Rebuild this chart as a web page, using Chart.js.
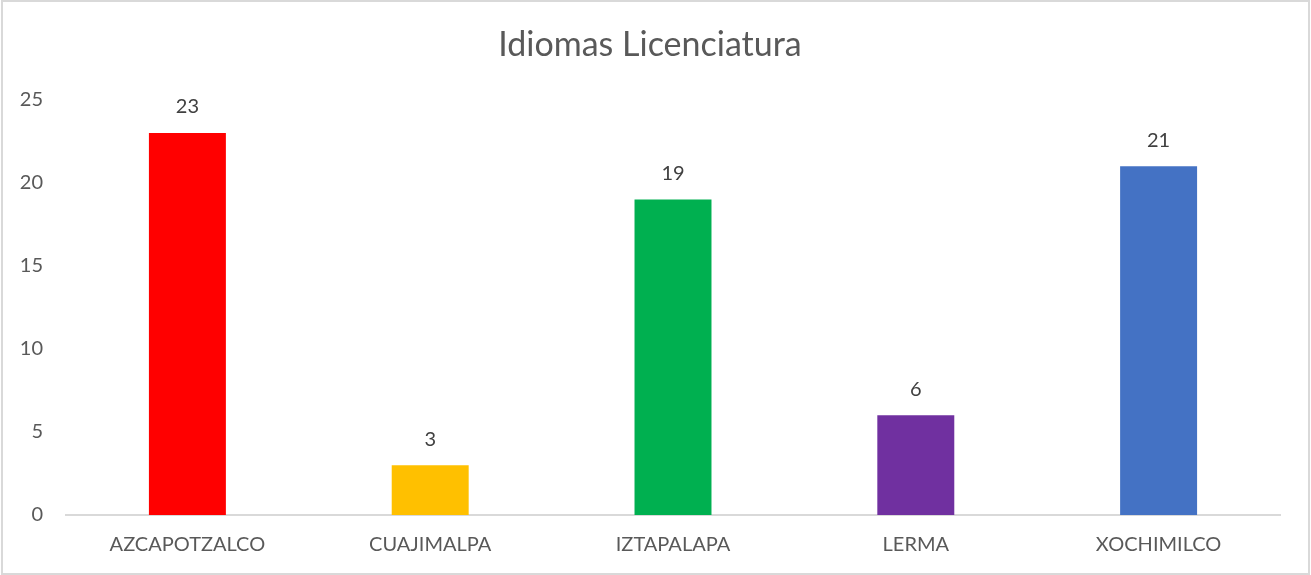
<!DOCTYPE html>
<html>
<head>
<meta charset="utf-8">
<script src="https://cdn.jsdelivr.net/npm/chart.js@4.4.0/dist/chart.umd.min.js"></script>
<style>
html,body{margin:0;padding:0;background:#fff;}
#wrap{width:1311px;height:575px;position:relative;}
</style>
</head>
<body>
<div id="wrap"><canvas id="c" width="1311" height="575"></canvas></div>
<script>
const titleText = "Idiomas Licenciatura";
const categories = ["AZCAPOTZALCO", "CUAJIMALPA", "IZTAPALAPA", "LERMA", "XOCHIMILCO"];
const values = [23, 3, 19, 6, 21];
const barColors = ["#FF0000", "#FFC000", "#00B050", "#7030A0", "#4472C4"];
const yTicks = [0, 5, 10, 15, 20, 25];

const FONT = "Lato, 'Open Sans', sans-serif";
const TEXT = "#595959";

const frame = {
  id: 'frame',
  beforeDraw(chart) {
    const ctx = chart.ctx;
    ctx.save();
    ctx.fillStyle = '#fff';
    ctx.fillRect(0, 0, chart.width, chart.height);
    ctx.strokeStyle = '#D9D9D9';
    ctx.lineWidth = 2;
    ctx.strokeRect(2, 1, chart.width - 4, chart.height - 2);
    ctx.restore();
  }
};

const valueLabels = {
  id: 'valueLabels',
  afterDatasetsDraw(chart) {
    const ctx = chart.ctx;
    const meta = chart.getDatasetMeta(0);
    ctx.save();
    ctx.fillStyle = '#404040';
    ctx.font = "20px " + FONT;
    ctx.textAlign = 'center';
    ctx.textBaseline = 'middle';
    meta.data.forEach((bar, i) => {
      ctx.fillText(String(values[i]), bar.x, bar.y - 26);
    });
    ctx.restore();
  }
};

new Chart(document.getElementById('c'), {
  type: 'bar',
  data: {
    labels: categories,
    datasets: [{
      data: values,
      backgroundColor: barColors,
      borderWidth: 0,
      categoryPercentage: 1,
      barPercentage: 0.317
    }]
  },
  options: {
    responsive: false,
    animation: false,
    devicePixelRatio: 1,
    layout: { padding: { left: 20, right: 31, top: 0, bottom: 0 } },
    plugins: {
      legend: { display: false },
      tooltip: { enabled: false },
      title: {
        display: true,
        text: titleText,
        color: TEXT,
        font: { family: FONT, size: 34, weight: 'normal' },
        padding: { top: 25, bottom: 34 }
      }
    },
    scales: {
      x: {
        afterFit(scale) { scale.height = 60; },
        grid: { display: false, drawTicks: false },
        border: { display: true, color: '#D9D9D9', width: 2 },
        ticks: { color: TEXT, font: { family: FONT, size: 20 }, padding: 18, maxRotation: 0 }
      },
      y: {
        min: 0, max: 25,
        afterFit(scale) { scale.width = 46; },
        afterBuildTicks(scale) { scale.ticks = yTicks.map(v => ({ value: v })); },
        grid: { display: false, drawTicks: false },
        border: { display: false },
        ticks: { color: TEXT, font: { family: FONT, size: 20 }, padding: 23, stepSize: 5 }
      }
    }
  },
  plugins: [frame, valueLabels]
});
</script>
</body>
</html>
